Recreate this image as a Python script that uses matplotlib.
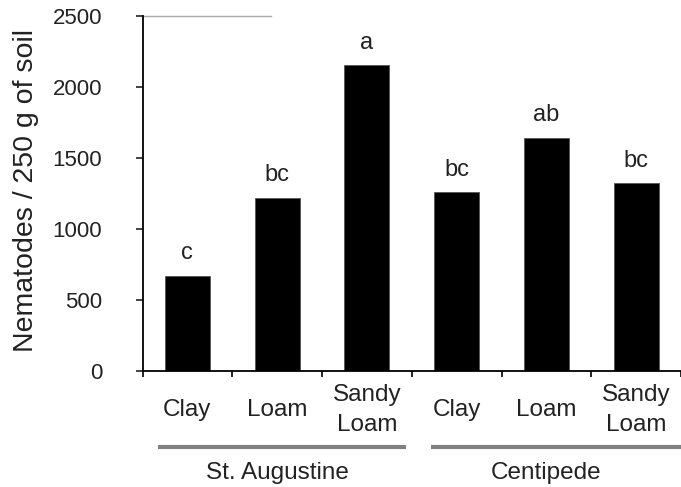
import matplotlib
matplotlib.use("Agg")
import matplotlib.pyplot as plt

plt.rcParams['font.family'] = ['Liberation Sans', 'DejaVu Sans']

# donnees
grass = ["St. Augustine", "Centipede"]
soils = ["Clay", "Loam", "Sandy\nLoam", "Clay", "Loam", "Sandy\nLoam"]
nematodes = [669, 1219, 2154, 1257, 1642, 1323]
letters = ["c", "bc", "a", "bc", "ab", "bc"]

W, H = 681, 487
fig = plt.figure(figsize=(W / 100, H / 100), dpi=100)
x0, x1 = 142.5, 681
ybot, ytop = 370.7, 16
ax = fig.add_axes([x0 / W, 1 - ybot / H, (x1 - x0) / W, (ybot - ytop) / H])

pos = list(range(len(nematodes)))
ax.bar(pos, nematodes, width=0.5, color="black", edgecolor="#555555", linewidth=0.6)
for p, v, l in zip(pos, nematodes, letters):
    ax.text(p, v + 80, l, ha="center", va="bottom", fontsize=17, color="#222222")

ax.set_xlim(-0.5, (x1 - x0) / 91 - 0.5)
ax.set_ylim(0, 2500)
ax.set_yticks([0, 500, 1000, 1500, 2000, 2500])
ax.tick_params(axis="y", labelsize=16, length=5, width=1.2, pad=24, colors="#222222")
ax.set_xticks([p - 0.5 for p in pos] + [len(pos) - 0.5])
ax.set_xticklabels([])
ax.tick_params(axis="x", length=4, width=1.2, direction="out")
fig.text(26 / W, 1 - 190 / H, "Nematodes / 250 g of soil", rotation=90,
         ha="center", va="center", fontsize=20.5, color="#222222")

for s in ["top", "right"]:
    ax.spines[s].set_visible(False)
ax.spines["left"].set_linewidth(1.3)
ax.spines["bottom"].set_linewidth(1.3)

# bout de bordure grise en haut
ax.plot([-0.5, 0.93], [2500, 2500], color="#aaaaaa", lw=1, clip_on=False)

# etiquettes des sols
for p, s in zip(pos, soils):
    ax.text(p, -277, s, ha="center", va="center", fontsize=17.5, color="#222222",
            linespacing=1.45)

# lignes et noms des groupes
ax.plot([-0.33, 2.44], [-540, -540], color="#808080", lw=3, clip_on=False, solid_capstyle="butt")
ax.plot([2.72, 5.6], [-540, -540], color="#808080", lw=3, clip_on=False, solid_capstyle="butt")
ax.text(1, -720, grass[0], ha="center", va="center", fontsize=17.5, color="#222222")
ax.text(4, -720, grass[1], ha="center", va="center", fontsize=17.5, color="#222222")

plt.savefig("out.png", dpi=100)
